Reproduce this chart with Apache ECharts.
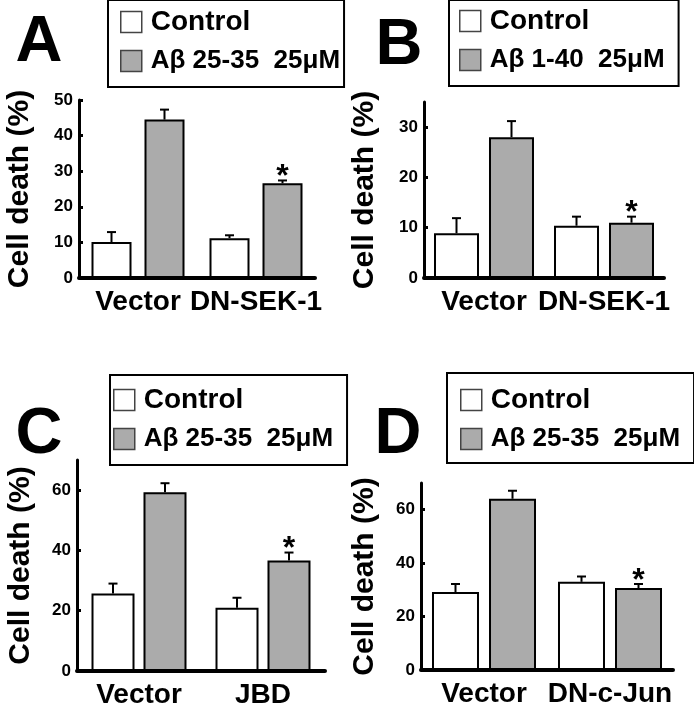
<!DOCTYPE html>
<html><head><meta charset="utf-8">
<script src="https://cdn.jsdelivr.net/npm/echarts@6/dist/echarts.min.js"></script>
<style>html,body{margin:0;padding:0;background:#fff}#c{width:694px;height:719px}</style>
</head><body><div id="c"></div>
<script>
// ---- data ----
const seriesNames = ['Control', 'Aβ 25-35  25μM', 'Aβ 1-40  25μM'];
const categoriesA = ['Vector', 'DN-SEK-1'];
const categoriesB = ['Vector', 'DN-SEK-1'];
const categoriesC = ['Vector', 'JBD'];
const categoriesD = ['Vector', 'DN-c-Jun'];

const controlA = [10.1, 11.2], controlErrA = [2.8, 0.8];
const abetaA = [44.5, 26.6], abetaErrA = [2.8, 0.8];
const sigA = [false, true];

const controlB = [8.9, 10.4], controlErrB = [3.0, 1.8];
const abetaB = [28.0, 11.0], abetaErrB = [3.2, 1.2];
const sigB = [false, true];

const controlC = [25.7, 21.0], controlErrC = [3.3, 3.3];
const abetaC = [59.3, 36.7], abetaErrC = [3.0, 2.6];
const sigC = [false, true];

const controlD = [29.2, 33.0], controlErrD = [3.0, 2.0];
const abetaD = [64.1, 30.7], abetaErrD = [3.0, 1.5];
const sigD = [false, true];

const yMaxA = 50, yStepA = 10;
const yMaxB = 35, yStepB = 10;
const yMaxC = 70, yStepC = 20;
const yMaxD = 70, yStepD = 20;

// ---- layout / styles ----
const FONT = '"Liberation Sans", Arial, sans-serif';
const GREY = '#ababab';
const panels = [
  {letter:'A', cats:categoriesA, ctl:controlA, ctlE:controlErrA, ab:abetaA, abE:abetaErrA, sig:sigA, abName:seriesNames[1],
   max:yMaxA, step:yStepA, grid:{left:79, top:100, width:236, height:178}, bw:40, gap:13, nameGap:44,
   legend:{left:108, top:0, padding:[7,4,11,12]}, letterPos:[39,43]},
  {letter:'B', cats:categoriesB, ctl:controlB, ctlE:controlErrB, ab:abetaB, abE:abetaErrB, sig:sigB, abName:seriesNames[2],
   max:yMaxB, step:yStepB, grid:{left:424, top:102, width:240, height:176}, bw:45, gap:10, nameGap:44,
   legend:{left:449, top:0, padding:[6,14,11,10]}, letterPos:[399,46]},
  {letter:'C', cats:categoriesC, ctl:controlC, ctlE:controlErrC, ab:abetaC, abE:abetaErrC, sig:sigC, abName:seriesNames[1],
   max:yMaxC, step:yStepC, grid:{left:77, top:460, width:248, height:211}, bw:43, gap:9, nameGap:41,
   legend:{left:110, top:375, padding:[10,14,11,3]}, letterPos:[39,435]},
  {letter:'D', cats:categoriesD, ctl:controlD, ctlE:controlErrD, ab:abetaD, abE:abetaErrD, sig:sigD, abName:seriesNames[1],
   max:yMaxD, step:yStepD, grid:{left:421, top:483, width:252, height:187}, bw:47, gap:10, nameGap:41,
   legend:{left:447, top:373, padding:[12,14,9,13]}, letterPos:[398,435]}
];

function errRender(offsetPx) {
  return function (params, api) {
    const i = api.value(0), v = api.value(1), top = api.value(2), sig = api.value(3);
    const p0 = api.coord([i, v]);
    const p1 = api.coord([i, top]);
    const x = p0[0] + offsetPx;
    const cap = 9;
    const children = [
      {type:'line', shape:{x1:x, y1:p0[1], x2:x, y2:p1[1]}, style:{stroke:'#000', lineWidth:2}},
      {type:'line', shape:{x1:x - cap/2, y1:p1[1], x2:x + cap/2, y2:p1[1]}, style:{stroke:'#000', lineWidth:2}}
    ];
    if (sig) {
      children.push({type:'text', x:x, y:p1[1] - 3,
        style:{text:'*', fontSize:32, fontWeight:'bold', fontFamily:FONT, fill:'#000', align:'center', verticalAlign:'middle'}});
    }
    return {type:'group', children};
  };
}

const option = {
  animation:false,
  backgroundColor:'#fff',
  grid:[], xAxis:[], yAxis:[], series:[], legend:[], graphic:[]
};

panels.forEach((p, k) => {
  option.grid.push(Object.assign({containLabel:false}, p.grid));
  option.xAxis.push({
    type:'category', gridIndex:k, data:p.cats,
    axisLine:{lineStyle:{color:'#000', width:4}},
    axisTick:{show:false},
    axisLabel:{interval:0, hideOverlap:false, color:'#000', fontSize:28, fontWeight:'bold', fontFamily:FONT, margin:10}
  });
  option.yAxis.push({
    type:'value', gridIndex:k, min:0, max:p.max, interval:p.step,
    name:'Cell death (%)', nameLocation:'middle', nameGap:p.nameGap,
    nameTextStyle:{color:'#000', fontSize:30, fontWeight:'bold', fontFamily:FONT},
    axisLine:{show:true, lineStyle:{color:'#000', width:3}},
    axisTick:{show:true, inside:true, length:4, lineStyle:{color:'#000', width:3}},
    axisLabel:{color:'#000', fontSize:17, fontWeight:'bold', fontFamily:FONT, margin:6, showMaxLabel: p.max % p.step === 0},
    splitLine:{show:false}
  });
  const gapPct = (p.gap / p.bw * 100).toFixed(1) + '%';
  option.series.push({
    type:'bar', name:'Control', xAxisIndex:k, yAxisIndex:k, data:p.ctl,
    barWidth:p.bw, barGap:gapPct,
    itemStyle:{color:'#fff', borderColor:'#000', borderWidth:2}
  });
  option.series.push({
    type:'bar', name:p.abName, xAxisIndex:k, yAxisIndex:k, data:p.ab,
    barWidth:p.bw, barGap:gapPct,
    itemStyle:{color:GREY, borderColor:'#000', borderWidth:2}
  });
  const off = (p.bw + p.gap) / 2;
  option.series.push({
    type:'custom', name:'errC' + k, xAxisIndex:k, yAxisIndex:k, z:5,
    renderItem:errRender(-off),
    data:p.ctl.map((v, i) => [i, v, v + p.ctlE[i], 0])
  });
  option.series.push({
    type:'custom', name:'errA' + k, xAxisIndex:k, yAxisIndex:k, z:5,
    renderItem:errRender(off),
    data:p.ab.map((v, i) => [i, v, v + p.abE[i], p.sig[i] ? 1 : 0])
  });
  option.legend.push({
    data:['Control', p.abName], orient:'vertical',
    left:p.legend.left, top:p.legend.top, padding:p.legend.padding,
    itemWidth:21, itemHeight:21, itemGap:9, icon:'rect',
    itemStyle:{borderColor:'#444', borderWidth:1.5},
    borderColor:'#000', borderWidth:2, backgroundColor:'#fff',
    selectedMode:false,
    formatter: name => name === 'Control' ? '{c|' + name + '}' : '{s|' + name + '}',
    textStyle:{
      color:'#000', fontWeight:'bold', fontFamily:FONT, lineHeight:30,
      rich:{
        c:{fontSize:28, fontWeight:'bold', fontFamily:FONT, color:'#000', lineHeight:30, padding:[0,0,0,4]},
        s:{fontSize:26, fontWeight:'bold', fontFamily:FONT, color:'#000', lineHeight:30, padding:[0,0,0,4]}
      }
    }
  });
  option.graphic.push({
    type:'text', x:p.letterPos[0], y:p.letterPos[1],
    style:{text:p.letter, fontSize:65, fontWeight:'bold', fontFamily:FONT, fill:'#000', align:'center', verticalAlign:'middle'}
  });
});

const chart = echarts.init(document.getElementById('c'), null, {renderer:'canvas'});
chart.setOption(option);
</script>
</body></html>
